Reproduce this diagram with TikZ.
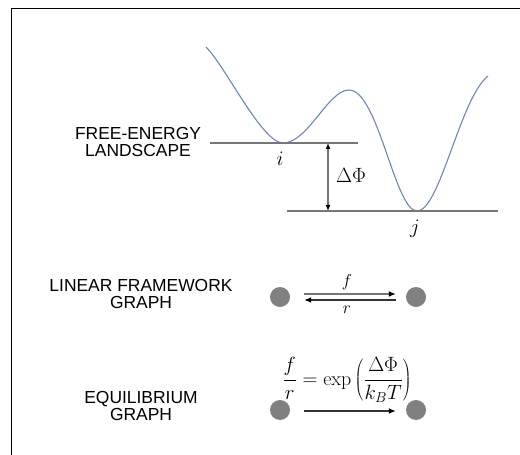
\documentclass[tikz,border=0pt]{standalone}
\usepackage{fontspec}
\newfontfamily\lblfont{Liberation Sans}
\usetikzlibrary{arrows.meta}
\definecolor{curveblue}{RGB}{108,134,182}
\definecolor{levelgray}{RGB}{118,118,118}
\definecolor{dotgray}{RGB}{128,128,128}
\begin{document}
\begin{tikzpicture}[x=1bp,y=-1bp,
  lbl/.style={font=\lblfont\fontsize{17.5}{16.5}\selectfont, align=center, inner sep=0},
  mlbl/.style={font=\fontsize{22}{24}\selectfont, inner sep=0},
  curve/.style={draw=curveblue, line width=1.1bp},
  level/.style={draw=levelgray, line width=1.6bp},
  dot/.style={circle, fill=dotgray, minimum size=20bp, inner sep=0},
  tipr/.style={-{Latex[length=7bp,width=6bp,color=black]}},
  frame/.style={draw=black, line width=1bp}
]
\useasboundingbox (0,0) rectangle (520,455);
% frame
\draw[frame] (11,455) -- (11,9) -- (520,9);

% free-energy curve
\draw[curve] (206,47) .. controls (226,67) and (262,143) .. (283,143)
  .. controls (308,143) and (328,90) .. (349,90)
  .. controls (378,90) and (395,211) .. (417,211)
  .. controls (440,211) and (460,98) .. (488,76);

% levels
\draw[level] (210,143) -- (358,143);
\draw[level] (287,211) -- (498,211);
\coordinate (lvi) at (328,143);
\coordinate (lvj) at (328,211);
\draw[draw=levelgray, line width=1.3bp, {Latex[length=6bp,width=5bp,color=black]}-{Latex[length=6bp,width=5bp,color=black]}] (lvi) -- (lvj);
\node[mlbl] (dphi) at (351,175) {$\Delta\Phi$};
\node[mlbl] (li) at (280,159) {$i$};
\node[mlbl] (lj) at (415,229) {$j$};

% labels
\node[lbl] (fel) at (138,142) {FREE-ENERGY\\LANDSCAPE};
\node[lbl] (lfg) at (141,294) {LINEAR FRAMEWORK\\GRAPH};
\node[lbl] (eqg) at (141,406) {EQUILIBRIUM\\GRAPH};

% linear framework graph
\node[dot] (L1) at (280,297) {};
\node[dot] (R1) at (416,297) {};
\draw[tipr, draw=levelgray, line width=1.6bp, shorten <=14bp, shorten >=10bp]
  ([yshift=3bp]L1.east) -- ([yshift=3bp]R1.west);
\draw[tipr, draw=black!80, line width=1.3bp, shorten <=10bp, shorten >=14bp]
  ([yshift=-3bp]R1.west) -- ([yshift=-3bp]L1.east);
\node[font=\fontsize{18}{20}\selectfont, inner sep=0] (fl) at (347,282) {$f$};
\node[font=\fontsize{18}{20}\selectfont, inner sep=0] (rl) at (347,310) {$r$};

% equilibrium graph
\node[dot] (L2) at (280,410) {};
\node[dot] (R2) at (416,410) {};
\draw[tipr, draw=black!80, line width=1.3bp, shorten <=14bp, shorten >=10bp]
  ([yshift=-1bp]L2.east) -- ([yshift=-1bp]R2.west);
\node[font=\fontsize{20}{24}\selectfont, inner sep=0] (eq) at (347,380)
  {$\displaystyle \frac{f}{r} = \exp\left(\frac{\Delta\Phi}{k_B T}\right)$};
\end{tikzpicture}
\end{document}
